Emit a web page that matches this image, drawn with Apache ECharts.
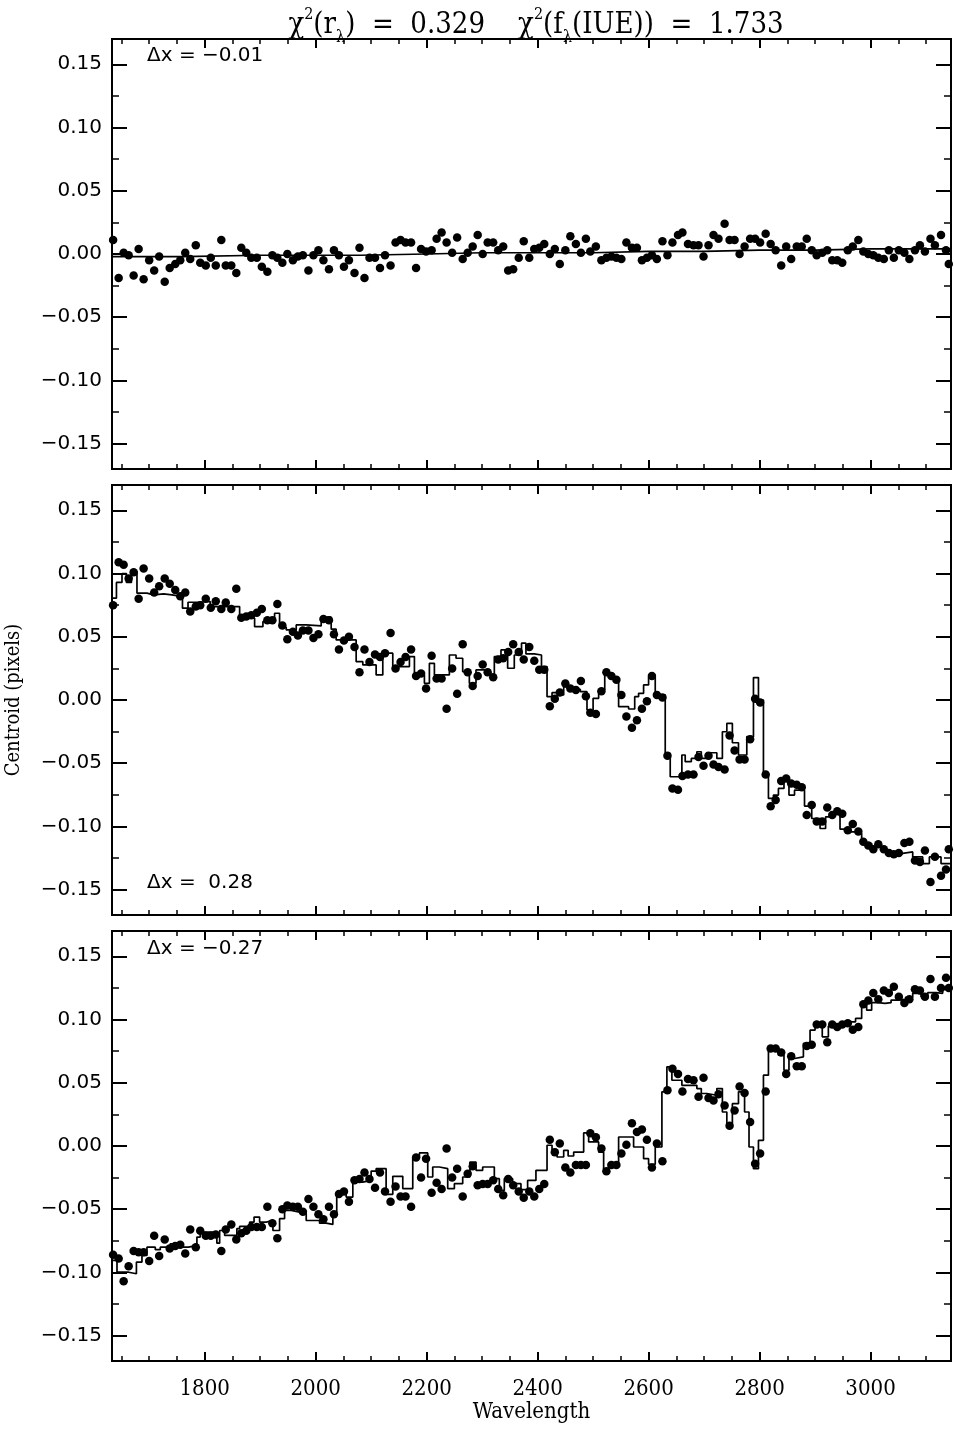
<!DOCTYPE html>
<html><head><meta charset="utf-8">
<script src="https://cdn.jsdelivr.net/npm/echarts@6/dist/echarts.min.js"></script>
<style>html,body{margin:0;padding:0;background:#fff}#c{width:954px;height:1429px}</style>
</head><body><div id="c"></div>
<script>
// ---------------- data ----------------
const wavelength = [1635,1645,1654,1663,1672,1681,1690,1700,1709,1718,
1728,1737,1747,1756,1765,1774,1784,1792,1802,1811,
1820,1830,1838,1848,1857,1866,1875,1884,1894,1903,
1913,1922,1931,1940,1949,1959,1968,1977,1987,1996,
2005,2014,2024,2033,2042,2051,2060,2070,2079,2088,
2097,2107,2116,2125,2135,2144,2153,2162,2172,2181,
2190,2199,2209,2218,2227,2236,2246,2255,2265,2274,
2283,2292,2301,2310,2320,2329,2338,2347,2356,2366,
2375,2385,2394,2403,2412,2422,2431,2440,2450,2459,
2469,2478,2487,2495,2505,2515,2524,2533,2542,2551,
2560,2570,2579,2588,2597,2606,2615,2625,2634,2643,
2653,2661,2671,2681,2690,2699,2708,2717,2726,2737,
2746,2755,2764,2773,2783,2792,2801,2811,2820,2829,
2839,2848,2857,2867,2876,2885,2894,2903,2913,2922,
2931,2940,2949,2959,2968,2978,2987,2996,3005,3014,
3024,3033,3042,3051,3061,3070,3080,3089,3098,3108,
3116,3127,3136,3141];

const centroidTop = [0.011,-0.019,0.001,-0.001,-0.017,0.004,-0.020,-0.005,-0.013,-0.002,
-0.022,-0.011,-0.008,-0.005,0.001,-0.004,0.007,-0.007,-0.009,-0.003,
-0.009,0.011,-0.009,-0.009,-0.015,0.005,0.001,-0.003,-0.003,-0.010,
-0.014,-0.001,-0.003,-0.007,0.000,-0.005,-0.002,-0.001,-0.013,-0.001,
0.003,-0.005,-0.012,0.003,-0.001,-0.010,-0.005,-0.015,0.005,-0.019,
-0.003,-0.003,-0.011,-0.001,-0.009,0.009,0.011,0.009,0.009,-0.011,
0.004,0.002,0.003,0.012,0.017,0.009,0.001,0.013,-0.004,0.001,
0.006,0.015,0.000,0.009,0.009,0.003,0.006,-0.013,-0.012,-0.003,
0.010,-0.003,0.004,0.005,0.008,0.000,0.004,-0.008,0.003,0.014,
0.008,0.001,0.012,0.002,0.006,-0.005,-0.003,-0.002,-0.003,-0.004,
0.009,0.005,0.005,-0.005,-0.003,-0.001,-0.004,0.010,-0.001,0.009,
0.015,0.017,0.008,0.007,0.007,-0.002,0.007,0.015,0.012,0.024,
0.011,0.011,0.000,0.006,0.012,0.012,0.009,0.016,0.008,0.003,
-0.009,0.006,-0.004,0.006,0.006,0.012,0.003,-0.001,0.001,0.003,
-0.005,-0.005,-0.007,0.003,0.006,0.011,0.002,0.000,-0.001,-0.003,
-0.004,0.003,-0.003,0.003,0.001,-0.004,0.003,0.007,0.002,0.012,
0.007,0.015,0.003,-0.008];

const centroidMid = [0.075,0.109,0.107,0.096,0.101,0.080,0.104,0.096,0.085,0.090,
0.096,0.092,0.087,0.082,0.085,0.070,0.074,0.075,0.080,0.073,
0.078,0.072,0.077,0.072,0.088,0.065,0.066,0.067,0.069,0.072,
0.063,0.063,0.076,0.059,0.048,0.054,0.051,0.055,0.055,0.049,
0.052,0.064,0.063,0.052,0.040,0.047,0.050,0.042,0.022,0.040,
0.030,0.036,0.034,0.037,0.053,0.025,0.030,0.034,0.040,0.019,
0.021,0.009,0.035,0.017,0.017,-0.007,0.025,0.005,0.044,0.022,
0.011,0.019,0.028,0.022,0.018,0.032,0.033,0.038,0.044,0.038,
0.032,0.042,0.031,0.024,0.024,-0.005,0.001,0.006,0.013,0.009,
0.008,0.015,0.003,-0.010,-0.011,0.007,0.022,0.019,0.016,0.004,
-0.013,-0.022,-0.016,-0.007,-0.001,0.019,0.004,0.002,-0.044,-0.070,
-0.071,-0.060,-0.059,-0.059,-0.045,-0.052,-0.044,-0.051,-0.053,-0.055,
-0.028,-0.040,-0.047,-0.047,-0.031,0.001,-0.002,-0.059,-0.084,-0.079,
-0.064,-0.062,-0.066,-0.067,-0.069,-0.091,-0.083,-0.096,-0.096,-0.085,
-0.091,-0.088,-0.090,-0.103,-0.098,-0.104,-0.112,-0.115,-0.118,-0.114,
-0.118,-0.121,-0.122,-0.121,-0.113,-0.112,-0.127,-0.128,-0.119,-0.144,
-0.124,-0.139,-0.134,-0.118];

const centroidBot = [-0.086,-0.089,-0.107,-0.095,-0.083,-0.084,-0.084,-0.091,-0.071,-0.087,
-0.074,-0.081,-0.079,-0.078,-0.085,-0.066,-0.080,-0.067,-0.071,-0.071,
-0.070,-0.083,-0.066,-0.062,-0.074,-0.069,-0.067,-0.064,-0.064,-0.064,
-0.048,-0.061,-0.073,-0.050,-0.047,-0.048,-0.048,-0.052,-0.042,-0.048,
-0.054,-0.058,-0.048,-0.054,-0.038,-0.036,-0.044,-0.027,-0.026,-0.021,
-0.026,-0.033,-0.021,-0.036,-0.044,-0.032,-0.040,-0.040,-0.048,-0.009,
-0.025,-0.010,-0.037,-0.029,-0.034,-0.002,-0.025,-0.018,-0.040,-0.022,
-0.016,-0.031,-0.030,-0.030,-0.027,-0.034,-0.039,-0.026,-0.031,-0.036,
-0.041,-0.036,-0.040,-0.034,-0.030,0.005,-0.005,0.002,-0.017,-0.021,
-0.015,-0.015,-0.015,0.010,0.007,-0.002,-0.020,-0.015,-0.015,-0.006,
0.001,0.018,0.011,0.013,0.005,-0.017,0.002,-0.012,0.044,0.061,
0.057,0.043,0.053,0.052,0.039,0.054,0.038,0.036,0.041,0.032,
0.016,0.028,0.047,0.042,0.019,-0.014,-0.006,0.043,0.077,0.077,
0.074,0.057,0.071,0.063,0.063,0.079,0.080,0.096,0.096,0.082,
0.096,0.094,0.096,0.097,0.092,0.094,0.112,0.115,0.121,0.116,
0.123,0.121,0.126,0.118,0.113,0.116,0.124,0.123,0.118,0.132,
0.118,0.125,0.133,0.125];

// model (histogram) bin edges and values
const modelTopEdges = [1633,1700,1760,1900,2000,2080,2200,2300,2380,2500,2600,2700,2800,2900,3000,3145];
const modelTopVals  = [-0.002,-0.002,-0.001,-0.001,-0.001,0.000,0.001,0.001,0.001,0.002,0.002,0.003,0.003,0.004,0.004,0.004];

const modelMidEdges = [1633,1641,1651,1659,1668,1678,1696,1708,1726,1741,
1760,1770,1786,1810,1863,1890,1905,1926,1935,1947,
1965,1983,2010,2028,2037,2073,2085,2109,2121,2139,
2169,2178,2196,2205,2214,2241,2253,2265,2277,2289,
2307,2322,2334,2346,2358,2371,2379,2394,2407,2417,
2426,2437,2447,2456,2477,2489,2500,2510,2521,2534,
2546,2564,2575,2582,2591,2600,2612,2630,2639,2660,
2666,2677,2687,2695,2705,2723,2733,2741,2751,2762,
2777,2789,2798,2807,2816,2825,2834,2844,2853,2863,
2881,2894,2909,2919,2928,2945,2960,2972,2984,3002,
3019,3037,3055,3076,3094,3106,3127,3145];
const modelMidVals = [0.0805,0.093,0.100,0.093,0.1016,0.0845,0.0831,0.0839,0.0831,0.0818,
0.0726,0.0773,0.0779,0.0739,0.0647,0.058,0.062,0.0686,0.0575,0.0554,
0.0594,0.0586,0.0655,0.056,0.0475,0.0303,0.0277,0.0198,0.037,0.0264,
0.0343,0.0198,0.0132,0.029,0.0198,0.0356,0.033,0.0224,0.0132,0.0238,
0.0198,0.0343,0.0396,0.0251,0.0356,0.0449,0.0364,0.0356,0.0264,0.0026,
0.0058,0.004,0.0106,0.0084,0.0066,-0.0079,0.0013,0.0079,0.0211,0.0164,
-0.0053,-0.0071,0.0026,0.0053,0.0119,0.018,0.004,-0.0422,-0.0607,-0.0435,
-0.0488,-0.0462,-0.0409,-0.0462,-0.0417,-0.0462,-0.0251,-0.0185,-0.0338,-0.0435,
-0.029,0.0177,0.0,-0.058,-0.0778,-0.0752,-0.0699,-0.0612,-0.0752,-0.0713,
-0.0839,-0.0937,-0.1016,-0.0924,-0.0897,-0.1021,-0.1043,-0.1055,-0.1135,-0.1161,
-0.1188,-0.1214,-0.1201,-0.1241,-0.1293,-0.1241,-0.1293,-0.1293];

const modelBotEdges = [1633,1642,1663,1677,1687,1696,1711,1720,1738,1759,
1771,1786,1792,1822,1827,1836,1858,1863,1881,1889,
1899,1911,1923,1935,1944,1956,1971,1983,2007,2019,
2031,2038,2055,2067,2085,2100,2109,2127,2139,2157,
2175,2187,2202,2211,2223,2238,2250,2265,2278,2289,
2301,2322,2331,2340,2355,2370,2382,2397,2417,2426,
2435,2447,2455,2465,2483,2492,2510,2519,2528,2546,
2573,2591,2600,2612,2624,2633,2642,2660,2687,2695,
2705,2723,2733,2741,2751,2762,2773,2781,2789,2798,
2807,2816,2834,2844,2853,2863,2879,2891,2900,2913,
2924,2933,2957,2973,2984,2993,3002,3014,3026,3037,
3049,3063,3076,3091,3103,3118,3130,3145];
const modelBotVals = [-0.0905,-0.0998,-0.101,-0.0918,-0.0865,-0.080,-0.082,-0.080,-0.0773,-0.080,
-0.0786,-0.072,-0.0681,-0.0768,-0.0668,-0.0707,-0.0654,-0.0636,-0.0602,-0.0562,
-0.0602,-0.0589,-0.0668,-0.0575,-0.0509,-0.0523,-0.0535,-0.0589,-0.061,-0.062,
-0.0535,-0.0377,-0.0404,-0.0285,-0.0272,-0.0198,-0.0179,-0.0382,-0.024,-0.0337,
-0.0092,-0.0055,-0.0245,-0.0166,-0.0179,-0.0337,-0.0298,-0.0245,-0.0127,-0.0192,
-0.0166,-0.0258,-0.0351,-0.0258,-0.0298,-0.0345,-0.0272,-0.0192,0.0006,-0.0029,
-0.0087,-0.0034,-0.0079,-0.0048,0.0103,0.0032,-0.0048,-0.0206,-0.014,0.0071,
-0.0008,-0.010,-0.0145,-0.0008,0.0428,0.0626,0.052,0.048,0.0454,0.0415,
0.0401,0.0454,0.0269,0.0177,0.0335,0.0428,0.0269,-0.0008,-0.0179,0.0045,
0.056,0.0784,0.0718,0.0599,0.0692,0.0705,0.0811,0.0916,0.0969,0.0863,
0.0948,0.0956,0.0982,0.1009,0.1127,0.1074,0.1133,0.1127,0.1133,0.1154,
0.1159,0.1175,0.1207,0.118,0.1212,0.1207,0.1238,0.1238];

const xMajorTicks = [1800,2000,2200,2400,2600,2800,3000];
const xMinorTicks = [1650,1700,1750,1850,1900,1950,2050,2100,2150,2250,2300,2350,2450,2500,2550,2650,2700,2750,2850,2900,2950,3050,3100];
const yMajorTicks = [-0.15,-0.10,-0.05,0,0.05,0.10,0.15];
const yMinorTicks = [-0.125,-0.075,-0.025,0.025,0.075,0.125];
const deltaLabels = ['\u0394x = \u22120.01', '\u0394x =  0.28', '\u0394x = \u22120.27'];

// ---------------- layout ----------------
const X_MIN = 1633, X_MAX = 3145, Y_MIN = -0.17, Y_MAX = 0.17;
const panelTops = [39, 485, 931];
const PH = 430;
const SERIF = '"DejaVu Serif Condensed", "DejaVu Serif", "Liberation Serif", serif';
const SANS = '"DejaVu Sans", "Liberation Sans", sans-serif';
const black = '#000';

const grids = panelTops.map(t => ({left:112, top:t, width:839, height:PH, containLabel:false, outerBoundsMode:'none'}));

const xAxes = [], yAxes = [];
panelTops.forEach((t, g) => {
  const isLast = g === 2;
  const bx = {type:'value', gridIndex:g, min:X_MIN, max:X_MAX, splitLine:{show:false},
    axisLine:{show:true, onZero:false, lineStyle:{color:black, width:2}}};
  xAxes.push(Object.assign({}, bx, {position:'bottom',
    axisTick:{show:true, inside:true, length:9, customValues:xMajorTicks, lineStyle:{color:black, width:2}},
    axisLabel:{show:isLast, customValues:xMajorTicks, margin:17, color:black, fontFamily:SERIF, fontSize:22,
      formatter: v => String(Math.round(v))},
    name: isLast ? 'Wavelength' : '', nameLocation:'middle', nameGap:40,
    nameTextStyle:{color:black, fontFamily:SERIF, fontSize:22}}));
  xAxes.push(Object.assign({}, bx, {position:'bottom',
    axisTick:{show:true, inside:true, length:5, customValues:xMinorTicks, lineStyle:{color:black, width:1.5}},
    axisLabel:{show:false}}));
  xAxes.push(Object.assign({}, bx, {position:'top',
    axisTick:{show:true, inside:true, length:9, customValues:xMajorTicks, lineStyle:{color:black, width:2}},
    axisLabel:{show:false}}));
  xAxes.push(Object.assign({}, bx, {position:'top',
    axisTick:{show:true, inside:true, length:5, customValues:xMinorTicks, lineStyle:{color:black, width:1.5}},
    axisLabel:{show:false}}));

  const by = {type:'value', gridIndex:g, min:Y_MIN, max:Y_MAX, splitLine:{show:false},
    axisLine:{show:true, onZero:false, lineStyle:{color:black, width:2}}};
  yAxes.push(Object.assign({}, by, {position:'left',
    axisTick:{show:true, inside:true, length:15, customValues:yMajorTicks, lineStyle:{color:black, width:2}},
    axisLabel:{show:true, customValues:yMajorTicks, margin:10, color:black, fontFamily:SANS, fontSize:20,
      formatter: v => (v < -1e-9 ? '\u2212' : '') + Math.abs(v).toFixed(2)},
    name: g === 1 ? 'Centroid (pixels)' : '', nameLocation:'middle', nameGap:88, nameRotate:90,
    nameTextStyle:{color:black, fontFamily:SERIF, fontSize:20}}));
  yAxes.push(Object.assign({}, by, {position:'left',
    axisTick:{show:true, inside:true, length:7, customValues:yMinorTicks, lineStyle:{color:black, width:1.5}},
    axisLabel:{show:false}}));
  yAxes.push(Object.assign({}, by, {position:'right',
    axisTick:{show:true, inside:true, length:15, customValues:yMajorTicks, lineStyle:{color:black, width:2}},
    axisLabel:{show:false}}));
  yAxes.push(Object.assign({}, by, {position:'right',
    axisTick:{show:true, inside:true, length:7, customValues:yMinorTicks, lineStyle:{color:black, width:1.5}},
    axisLabel:{show:false}}));
});

const points = [centroidTop, centroidMid, centroidBot];
const models = [[modelTopEdges, modelTopVals],[modelMidEdges, modelMidVals],[modelBotEdges, modelBotVals]];
const series = [];
points.forEach((p, g) => {
  series.push({type:'line', xAxisIndex:4*g, yAxisIndex:4*g, step:'end', symbol:'none', silent:true,
    data: models[g][0].map((e, i) => [e, models[g][1][i]]),
    lineStyle:{color:black, width:1.7, opacity:1}, z:2});
  series.push({type:'scatter', xAxisIndex:4*g, yAxisIndex:4*g, symbol:'circle', symbolSize:8.5, silent:true,
    data: wavelength.map((w, i) => [w, p[i]]), itemStyle:{color:black, opacity:1}, z:3});
});

const annTops = [46, 873, 939];
const graphic = deltaLabels.map((txt, i) => ({type:'text', left:147, top:annTops[i],
  style:{text:txt, font:'20px ' + SANS, fill:black}}));

const option = {
  animation:false,
  backgroundColor:'#fff',
  title:{
    left:531, top:-1, textAlign:'center',
    text:'{t|\u03c7}{sup|2}{t|(r}{sub|\u03bb}{t|)  =  0.329    \u03c7}{sup|2}{t|(f}{sub|\u03bb}{t|(IUE))  =  1.733}',
    textStyle:{fontWeight:'normal', rich:{
      t:{fontFamily:SERIF, fontSize:29, fontWeight:'normal', color:black, lineHeight:34},
      sup:{fontFamily:SERIF, fontSize:16, fontWeight:'normal', color:black, padding:[0,0,20,0]},
      sub:{fontFamily:SERIF, fontSize:16, fontWeight:'normal', color:black, padding:[26,0,0,0]}
    }}
  },
  grid:grids, xAxis:xAxes, yAxis:yAxes, series:series, graphic:graphic
};

const chart = echarts.init(document.getElementById('c'), null, {renderer:'canvas'});
chart.setOption(option);
</script></body></html>
